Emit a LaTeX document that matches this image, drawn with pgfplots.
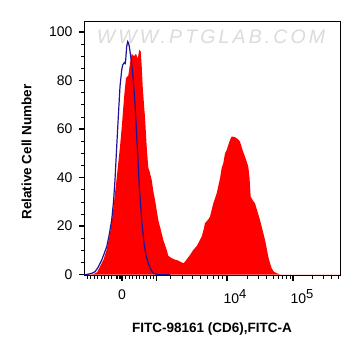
\documentclass[border=0pt]{standalone}
\usepackage{fontspec}
\setmainfont{Liberation Sans}
\newfontfamily\wmfont[LetterSpace=16]{Liberation Sans}
\usepackage{pgfplots}
\pgfplotsset{compat=1.18}
\definecolor{ctrlblue}{RGB}{30,20,150}
\definecolor{samplered}{RGB}{255,0,0}

\begin{document}
\begin{tikzpicture}
\useasboundingbox (-84pt,-80.5pt) rectangle (277pt,275.5pt);
\begin{axis}[
  at={(0,0)}, anchor=south west,
  scale only axis, width=256pt, height=254.5pt,
  xmin=84, xmax=340, ymin=-0.33, ymax=104.5,
  axis line style={line width=0.8pt},
  tick align=outside, xtick pos=bottom, ytick pos=left,
  major tick length=5pt, minor tick length=3pt,
  major tick style={line width=1.4pt, black},
  minor tick style={line width=0.7pt, black},
  ytick={0,20,40,60,80,100}, minor y tick num=3,
  xtick={122,156.7,227,293},
  xticklabels={0,,{\hspace*{16pt}10\raisebox{0.55ex}{\fontsize{13}{13}\selectfont 4}},{\hspace*{18pt}10\raisebox{0.55ex}{\fontsize{13}{13}\selectfont 5}}},
  minor xtick={87,90.5,94,97.5,101,104.5,108,111.5,116,117.5,119,120.5,125.5,129,132.5,136,139.5,143,146.5,150,153.5,
    170,182,192,200,207,213,218,222.5,
    246.9,258.5,266.7,273.1,278.4,282.8,286.6,290,
    312.5,323.5,331.5,338},
  /pgf/number format/assume math mode=true,
  tick label style={font=\fontsize{14}{14}\selectfont},
  yticklabel style={xshift=-3pt},
  xticklabel style={yshift=-6pt},
  xlabel={FITC-98161 (CD6),FITC-A},
  ylabel={Relative Cell Number},
  label style={font=\bfseries\fontsize{13.5}{13.5}\selectfont},
  xlabel style={at={(axis description cs:0.5,-0.21)}, anchor=center},
  ylabel style={at={(axis description cs:-0.224,0.485)}, anchor=center, rotate=0},
  clip=true,
]
\node[font=\wmfont\itshape\fontsize{19.5}{19.5}\selectfont, text=gray!28] at (axis cs:211,97.9) {WWW.PTGLAB.COM};

\addplot[fill=samplered, draw=none] coordinates {
(84,0) (93.3,0.2) (97,1) (100,3.3) (103.3,6) (106.5,10) (110,17) (112.5,24) (115,33.5)
(117.5,43) (120,52.7) (122,62) (123.3,69) (124.5,75) (126,81) (128.3,82) (130,87)
(131.7,91) (134,90) (136,91) (137.7,89) (139.3,92.6) (140.7,92) (141.7,86) (142.7,77.5)
(144,70) (145,65) (146.7,52.7) (148.3,44) (149.3,43) (151.7,39) (153.3,34.5) (155,30.8)
(158.3,22.5) (161.7,17) (163.3,14.3) (166.7,10.2) (168.3,7.8) (171.7,6.8) (175,6.2)
(178.3,5.8) (181,5.2) (183.3,4.7) (185,5.4) (187,6.5) (190,8.1) (193.3,10.2) (196.7,11.8)
(198.3,13) (201.7,15.7) (203.5,18.4) (205,21.2) (208.3,22.8) (210,23.9) (213.3,29.4)
(216.7,33.5) (220,39.7) (221.7,44) (223.3,45.9) (225,50) (226.7,51.4) (228.3,53.4)
(230,55.5) (231.7,56.9) (234,56.8) (236.7,56.2) (238.5,55.6) (240,54.8) (242,52)
(245,48.6) (246.7,46.5) (248.3,44.5) (249.5,40) (250.7,32.1) (252.5,30.8) (255,29.4)
(257.5,26) (260,22.5) (262.5,18.5) (265,14.3) (266.7,10.8) (268.3,7.4) (270,4.8)
(271.7,2.6) (274,1.2) (276.7,0.6) (280,0.1) (284,0) (340,0)
} \closedcycle;

\addplot[color=ctrlblue, line width=1.2pt] coordinates {
(84,0) (88,0.2) (92,0.6) (95,1.2) (98,3) (101.7,6) (104,8.5) (106.7,11.5) (109,16)
(111.7,22.5) (113.5,30) (115,39) (116.7,52.7) (118.3,65) (120,77.5) (121.7,84.3)
(122.7,86.4) (124.3,87.4) (125.2,87) (125.7,88.5) (126.7,94) (127.7,96) (128.5,95.5)
(129.3,94) (130.7,90) (132.7,83) (135,70.6) (137.3,52.7) (139.3,36.3) (141.7,22.5)
(144,13) (146,8) (148.3,4.7) (151,2) (153.3,0.6) (158.3,0) (170,0)
};
\end{axis}
\end{tikzpicture}
\end{document}
